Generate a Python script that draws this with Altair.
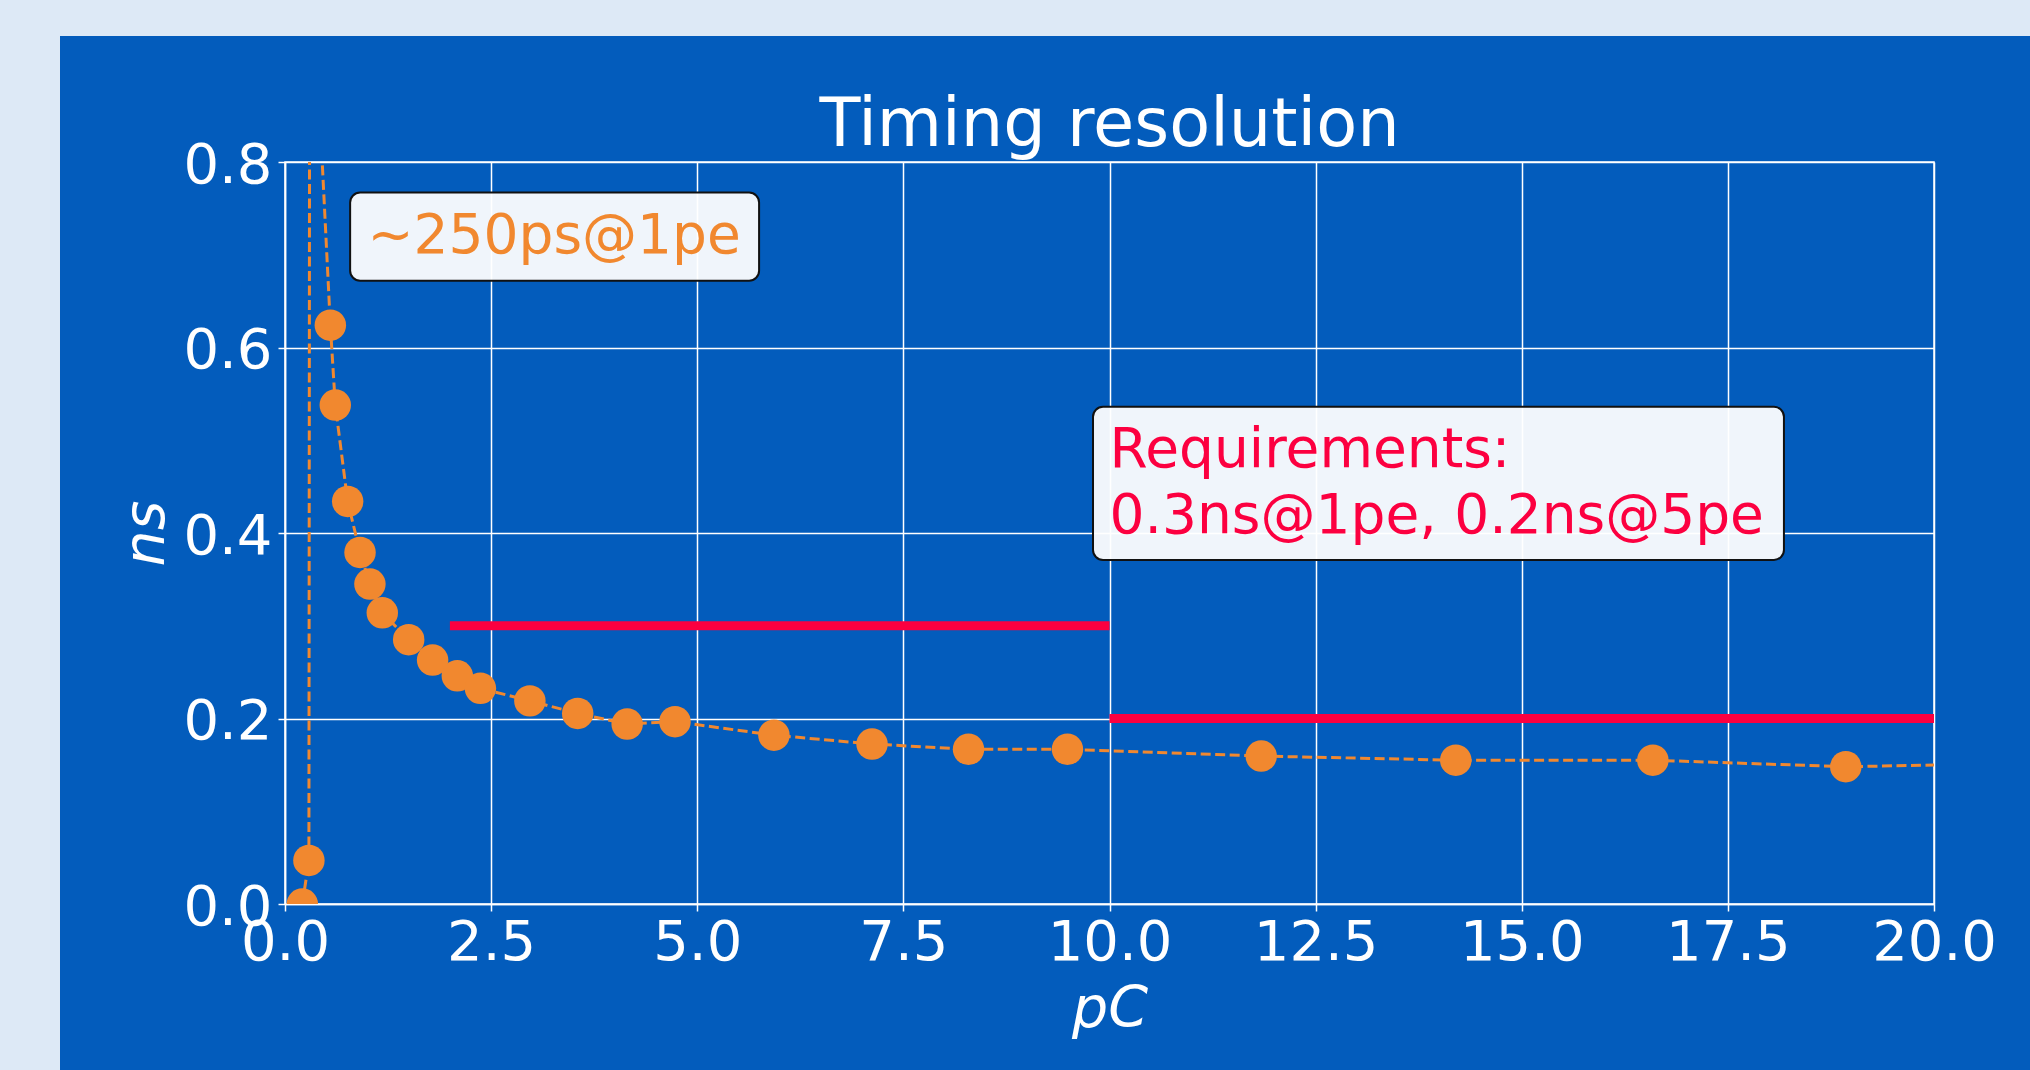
import altair as alt
import pandas as pd

# ---- measured data (charge in pC, timing resolution in ns) ----
charge_pc = [0.21, 0.29, 0.30, 0.55, 0.61, 0.76, 0.91, 1.03, 1.18, 1.50, 1.79,
             2.09, 2.37, 2.97, 3.55, 4.15, 4.73, 5.93, 7.12, 8.29, 9.49,
             11.84, 14.20, 16.59, 18.93, 21.30]
resolution_ns = [0.0, 0.047, 1.07, 0.624, 0.538, 0.434, 0.379, 0.345, 0.314, 0.285, 0.263,
                 0.246, 0.2325, 0.219, 0.2055, 0.194, 0.1966, 0.182, 0.1725, 0.1668, 0.1668,
                 0.1595, 0.155, 0.155, 0.148, 0.152]

# ---- requirement levels ----
req_start = [2.0, 10.0]
req_end = [10.0, 20.0]
req_level = [0.3, 0.2]

# ---- ticks ----
x_ticks = [0.0, 2.5, 5.0, 7.5, 10.0, 12.5, 15.0, 17.5, 20.0]
y_ticks = [0.0, 0.2, 0.4, 0.6, 0.8]

# ---- texts ----
title_text = ["Timing resolution"]
note1_text = ["~250ps@1pe"]
note2_text = ["Requirements:", "0.3ns@1pe, 0.2ns@5pe"]

FONT = "DejaVu Sans"
ORANGE = "#f1882f"
RED = "#fc0040"
DARK = "#035cbc"
LIGHT = "#dde9f6"
TICK_FS = 56
NOTE_FS = 55

pts = pd.DataFrame({"x": charge_pc, "y": resolution_ns})
req = pd.DataFrame({"x": req_start, "x2": req_end, "y": req_level})
box1 = pd.DataFrame({"x": [0.79], "x2": [5.75], "y": [0.767], "y2": [0.672]})
box2 = pd.DataFrame({"x": [9.80], "x2": [18.18], "y": [0.536], "y2": [0.371]})
txt1 = pd.DataFrame({"x": [1.0], "y": [0.7022], "t": note1_text})
txt2 = pd.DataFrame({"x": [10.0, 10.0], "y": [0.4715, 0.3997], "t": note2_text})
ttl = pd.DataFrame({"t": title_text})

x_axis = alt.Axis(values=x_ticks, format=".1f", title="pC",
                  titleFont=FONT, titleFontSize=57, titleFontStyle="italic",
                  titleFontWeight="normal", titleColor="white",
                  titleX=824.5, titleY=122, titleBaseline="alphabetic", titleAlign="center",
                  labelFont=FONT, labelFontSize=TICK_FS, labelColor="white", labelPadding=4,
                  labelFlush=False, labelOverlap=False,
                  tickColor="white", tickSize=7, tickWidth=1.5,
                  domainColor="white", domainWidth=1.5,
                  gridColor="white", gridWidth=1.5, gridOpacity=1)
y_axis = alt.Axis(values=y_ticks, format=".1f", title="ns",
                  titleFont=FONT, titleFontSize=57, titleFontStyle="italic",
                  titleFontWeight="normal", titleColor="white", titleAngle=270,
                  titleX=-122, titleY=371, titleBaseline="alphabetic", titleAlign="center",
                  labelFont=FONT, labelFontSize=TICK_FS, labelColor="white", labelPadding=6,
                  labelBaseline="alphabetic", labelOffset=20,
                  labelFlush=False, labelOverlap=False,
                  tickColor="white", tickSize=7, tickWidth=1.5,
                  domainColor="white", domainWidth=1.5,
                  gridColor="white", gridWidth=1.5, gridOpacity=1)

X = alt.X("x:Q", scale=alt.Scale(domain=[0, 20], nice=False, zero=False), axis=x_axis)
Y = alt.Y("y:Q", scale=alt.Scale(domain=[0, 0.8], nice=False, zero=False), axis=y_axis)

# decorative light strips around the dark panel
strip_df = pd.DataFrame({"k": [0]})
strip_top = alt.Chart(strip_df).mark_rect(color=LIGHT).encode(
    x=alt.value(-285), x2=alt.value(1745), y=alt.value(-162), y2=alt.value(-126))
strip_left = alt.Chart(strip_df).mark_rect(color=LIGHT).encode(
    x=alt.value(-285), x2=alt.value(-225), y=alt.value(-162), y2=alt.value(908))

title = alt.Chart(ttl).mark_text(font=FONT, fontSize=67, color="white", align="center",
                                 baseline="alphabetic").encode(
    x=alt.value(824.5), y=alt.value(-16), text="t:N")

line = alt.Chart(pts).mark_line(color=ORANGE, strokeWidth=3, strokeDash=[10, 4.5],
                                clip=True).encode(x=X, y=Y)
dots = alt.Chart(pts).mark_circle(color=ORANGE, size=990, opacity=1, clip=True).encode(x=X, y=Y)
rules = alt.Chart(req).mark_rule(color=RED, strokeWidth=9, strokeCap="butt").encode(
    x=X, x2="x2:Q", y=Y)

box_style = dict(fill="white", fillOpacity=0.94, stroke="#111111", strokeWidth=2,
                 cornerRadius=10)
b1 = alt.Chart(box1).mark_rect(**box_style).encode(x=X, x2="x2:Q", y=Y, y2="y2:Q")
b2 = alt.Chart(box2).mark_rect(**box_style).encode(x=X, x2="x2:Q", y=Y, y2="y2:Q")
t1 = alt.Chart(txt1).mark_text(font=FONT, fontSize=NOTE_FS, color=ORANGE, align="left",
                               baseline="alphabetic").encode(x=X, y=Y, text="t:N")
t2 = alt.Chart(txt2).mark_text(font=FONT, fontSize=NOTE_FS, color=RED, align="left",
                               baseline="alphabetic").encode(x=X, y=Y, text="t:N")

chart = alt.layer(strip_top, strip_left, title, line, dots, rules, b1, b2, t1, t2).properties(
    width=1649, height=742,
    padding={"left": 285, "top": 162, "right": 96, "bottom": 166},
    autosize=alt.AutoSizeParams(type="none"),
    background=DARK,
).configure_view(stroke="white", strokeWidth=1.5, fill=None)

chart.save("out.html", embed_options={"renderer": "svg", "actions": False})
